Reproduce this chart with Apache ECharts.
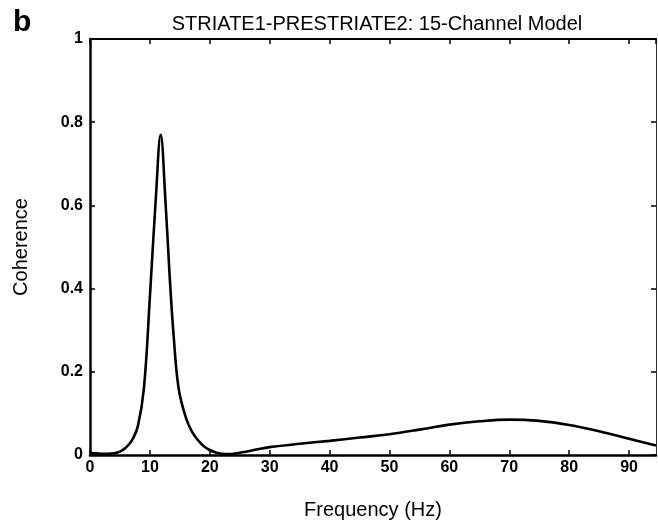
<!DOCTYPE html>
<html><head><meta charset="utf-8">
<script src="https://cdn.jsdelivr.net/npm/echarts@6/dist/echarts.min.js"></script>
<style>html,body{margin:0;padding:0;background:#fff}#c{width:658px;height:525px}</style>
</head><body><div id="c"></div>
<script>
const freq = [0,1,2,3,4,5,6,7,8,9,10,11,11.8,12.6,13.3,14,14.8,16,17,18,19,20,21,22,23,24,26,28,30,35,40,45,50,55,60,65,70,75,80,85,90,94.5];
const coherence = [0.005,0.004,0.003,0.003,0.004,0.008,0.018,0.035,0.07,0.16,0.38,0.62,0.77,0.61,0.43,0.28,0.16,0.09,0.057,0.036,0.021,0.012,0.006,0.003,0.002,0.003,0.008,0.014,0.019,0.027,0.034,0.042,0.05,0.061,0.073,0.081,0.085,0.082,0.072,0.057,0.039,0.023];
const xTicks = [0,10,20,30,40,50,60,70,80,90];
const yTicks = [0,0.2,0.4,0.6,0.8,1];
const titleText = 'STRIATE1-PRESTRIATE2: 15-Channel Model';

const chart = echarts.init(document.getElementById('c'));
const font = 'Liberation Sans, Arial, sans-serif';
const data = freq.map((f,i)=>[f, coherence[i]]);
const tick = {inside:true, length:5, lineStyle:{color:'#000', width:1.5}};
chart.setOption({
  animation:false,
  backgroundColor:'#fff',
  title:[
    {text:titleText, left:372, top:9, textAlign:'center', textStyle:{fontFamily:font, fontSize:20, fontWeight:'normal', color:'#000'}},
    {text:'b', left:8, top:3, textStyle:{fontFamily:font, fontSize:30, fontWeight:'bold', color:'#000'}}
  ],
  grid:{left:90, top:39, width:566, height:417, containLabel:false},
  xAxis:[
    {type:'value', min:0, max:94.5, interval:10, position:'bottom',
     name:'Frequency (Hz)', nameLocation:'middle', nameGap:45,
     nameTextStyle:{fontFamily:font, fontSize:20, color:'#000'},
     axisLine:{onZero:false, lineStyle:{color:'#000', width:2.5}},
     axisTick:tick,
     axisLabel:{fontFamily:font, fontSize:16, fontWeight:'bold', color:'#000', margin:5, showMaxLabel:false,
       formatter:v=> xTicks.includes(v)? String(v):''},
     splitLine:{show:false}},
    {type:'value', min:0, max:94.5, interval:10, position:'top',
     axisLine:{onZero:false, lineStyle:{color:'#000', width:2}},
     axisTick:tick,
     axisLabel:{show:false}, splitLine:{show:false}}
  ],
  yAxis:[
    {type:'value', min:0, max:1, interval:0.2, position:'left',
     name:'Coherence', nameLocation:'middle', nameGap:59, nameRotate:90,
     nameTextStyle:{fontFamily:font, fontSize:20, color:'#000'},
     axisLine:{onZero:false, lineStyle:{color:'#000', width:2.5}},
     axisTick:tick,
     axisLabel:{fontFamily:font, fontSize:16, fontWeight:'bold', color:'#000', margin:7,
       formatter:v=>{const t=yTicks.find(y=>Math.abs(y-v)<1e-9); return t===undefined?'':String(+t.toFixed(1));}},
     splitLine:{show:false}},
    {type:'value', min:0, max:1, interval:0.2, position:'right',
     axisLine:{onZero:false, lineStyle:{color:'#333', width:1}},
     axisTick:tick,
     axisLabel:{show:false}, splitLine:{show:false}}
  ],
  series:[{type:'line', data:data, showSymbol:false, smooth:0.4, lineStyle:{color:'#000', width:2.6}, xAxisIndex:0, yAxisIndex:0}]
});
</script></body></html>
